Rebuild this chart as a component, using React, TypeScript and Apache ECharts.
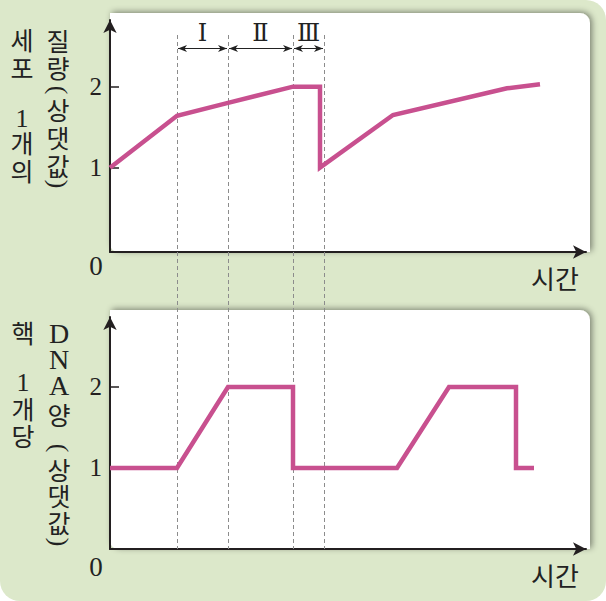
import React, { useEffect, useRef } from "react";
import * as echarts from "echarts";

// ---- data ----
const massTime = [0, 6.7, 11.8, 18.3, 21.0, 21.0, 28.3, 39.7, 43.0];
const massValue = [1, 1.64, 1.8, 2.0, 2.0, 1.0, 1.65, 1.98, 2.03];
const dnaTime = [0, 6.7, 11.8, 18.3, 18.3, 28.7, 33.9, 40.6, 40.6, 42.4];
const dnaValue = [1, 1, 2, 2, 1, 1, 2, 2, 1, 1];
const phaseBounds = [6.7, 11.8, 18.3, 21.4];
const phaseLabels = ["Ⅰ", "Ⅱ", "Ⅲ"];
const yTickValues = [1, 2];
const xAxisTitle = "시간";
const originLabel = "0";
const topTitleA = ["세", "포", "1", "개", "의"];
const topTitleB = ["질", "량", "(", "상", "댓", "값", ")"];
const botTitleA = ["핵", "1", "개", "당"];
const botTitleB = ["D", "N", "A", "양", "(", "상", "댓", "값", ")"];

// ---- layout (pixels) ----
const topTitleAY = [39, 67, 118, 142, 170];
const topTitleBY = [40, 67, 90, 109, 137, 165, 184];
const botTitleAY = [332, 382, 408, 435];
const botTitleBY = [333, 359, 385, 414, 448, 469, 495, 522, 542];

const AXIS = "#231f20";
const LINE = "#c8508f";
const TEXT = "#222222";
const KR = "'Noto Sans CJK KR', 'Noto Sans', sans-serif";
const SERIF = "'Liberation Serif', 'DejaVu Serif', serif";

const isSerif = (c: string) => /[0-9A-Z]/.test(c);

export default function App() {
  const ref = useRef<HTMLDivElement>(null);
  useEffect(() => {
    document.body.style.margin = "0";
    const chart = echarts.init(ref.current!, null, { renderer: "svg" });
    const axisLine = {
      show: true,
      onZero: false,
      symbol: ["none", "arrow"],
      symbolSize: [10, 13],
      lineStyle: { color: AXIS, width: 2 },
    };
    const makeX = (gi: number) => ({
      type: "value",
      gridIndex: gi,
      min: 0,
      max: 47.6,
      axisLine,
      axisTick: { show: false },
      axisLabel: { show: false },
      splitLine: { show: false },
    });
    const makeY = (gi: number, min: number, max: number) => ({
      type: "value",
      gridIndex: gi,
      min,
      max,
      axisLine,
      axisTick: {
        show: true,
        inside: true,
        length: 9,
        customValues: yTickValues,
        lineStyle: { color: AXIS, width: 1.5 },
      },
      axisLabel: {
        show: true,
        customValues: yTickValues,
        margin: 8,
        fontFamily: SERIF,
        fontSize: 25,
        color: AXIS,
      },
      splitLine: { show: false },
    });
    const lineStyle = { color: LINE, width: 4.5, join: "miter", cap: "butt" };
    chart.setOption({
      animation: false,
      grid: [
        { left: 110, right: 20, top: 20, bottom: 349 },
        { left: 110, right: 20, top: 317, bottom: 52 },
      ],
      xAxis: [makeX(0), makeX(1)],
      yAxis: [makeY(0, -0.041, 2.823), makeY(1, 0, 2.864)],
      series: [
        {
          type: "line",
          xAxisIndex: 0,
          yAxisIndex: 0,
          data: massTime.map((t, i) => [t, massValue[i]]),
          symbol: "none",
          silent: true,
          lineStyle,
          z: 5,
        },
        {
          type: "line",
          xAxisIndex: 1,
          yAxisIndex: 1,
          data: dnaTime.map((t, i) => [t, dnaValue[i]]),
          symbol: "none",
          silent: true,
          lineStyle,
          z: 5,
        },
      ],
    });

    const px = (x: number) => (chart.convertToPixel({ gridIndex: 0 }, [x, 0]) as number[])[0];
    const els: any[] = [];
    els.push({
      type: "rect",
      z: -20,
      shape: { x: 0, y: 0, width: 606, height: 601, r: [0, 20, 20, 20] },
      style: { fill: "#dce8ca" },
    });
    const panel = (y: number, h: number) => ({
      type: "rect",
      z: -10,
      shape: { x: 110, y, width: 480, height: h, r: [0, 10, 0, 8] },
      style: {
        fill: "#ffffff",
        shadowBlur: 6,
        shadowColor: "rgba(0,0,0,0.45)",
        shadowOffsetX: 2,
        shadowOffsetY: -1,
      },
    });
    els.push(panel(13, 239));
    els.push(panel(310, 239));
    phaseBounds.forEach((b) => {
      const x = Math.round(px(b)) + 0.5;
      els.push({
        type: "line",
        z: 1,
        shape: { x1: x, y1: 35, x2: x, y2: 549 },
        style: { stroke: "#8c8c8c", lineWidth: 1, lineDash: [4, 3] },
      });
    });
    const ay = 48.5;
    for (let i = 0; i < phaseLabels.length; i++) {
      const x1 = px(phaseBounds[i]) + 1;
      const x2 = px(phaseBounds[i + 1]) - 1;
      els.push({
        type: "line",
        z: 10,
        shape: { x1, y1: ay, x2, y2: ay },
        style: { stroke: "#222", lineWidth: 1 },
      });
      els.push({
        type: "polygon",
        z: 10,
        shape: { points: [[x1, ay], [x1 + 9, ay - 3.5], [x1 + 6.5, ay], [x1 + 9, ay + 3.5]] },
        style: { fill: "#222" },
      });
      els.push({
        type: "polygon",
        z: 10,
        shape: { points: [[x2, ay], [x2 - 9, ay - 3.5], [x2 - 6.5, ay], [x2 - 9, ay + 3.5]] },
        style: { fill: "#222" },
      });
      els.push({
        type: "text",
        z: 10,
        x: (x1 + x2) / 2,
        y: 33,
        style: {
          text: phaseLabels[i],
          fill: "#222",
          font: `24px 'DejaVu Serif', 'Liberation Serif', serif`,
          align: "center",
          verticalAlign: "middle",
        },
      });
    }
    const column = (chars: string[], ys: number[], x: number) => {
      chars.forEach((c, i) => {
        const paren = c === "(" || c === ")";
        const serif = isSerif(c);
        const size = paren ? 26 : serif ? (/[A-Z]/.test(c) ? 28 : 26) : 25;
        els.push({
          type: "text",
          z: 10,
          x,
          y: ys[i],
          rotation: paren ? -Math.PI / 2 : 0,
          style: {
            text: c,
            fill: TEXT,
            font: `${size}px ${serif || paren ? SERIF : KR}`,
            lineHeight: paren ? 18 : 20,
            align: "center",
            verticalAlign: "middle",
          },
        });
      });
    };
    column(topTitleA, topTitleAY, 22);
    column(topTitleB, topTitleBY, 58);
    column(botTitleA, botTitleAY, 23);
    column(botTitleB, botTitleBY, 59);
    [266, 567].forEach((y) => {
      els.push({
        type: "text",
        z: 10,
        x: 96,
        y,
        style: { text: originLabel, fill: TEXT, font: `27px ${SERIF}`, align: "center", verticalAlign: "middle" },
      });
    });
    [277, 574].forEach((y) => {
      els.push({
        type: "text",
        z: 10,
        x: 555,
        y,
        style: { text: xAxisTitle, fill: TEXT, font: `26px ${KR}`, align: "center", verticalAlign: "middle" },
      });
    });
    chart.setOption({ graphic: { elements: els } });
    return () => chart.dispose();
  }, []);
  return (
    <div
      ref={ref}
      style={{ position: "fixed", left: 0, top: 0, width: 606, height: 601, background: "#ffffff" }}
    />
  );
}
